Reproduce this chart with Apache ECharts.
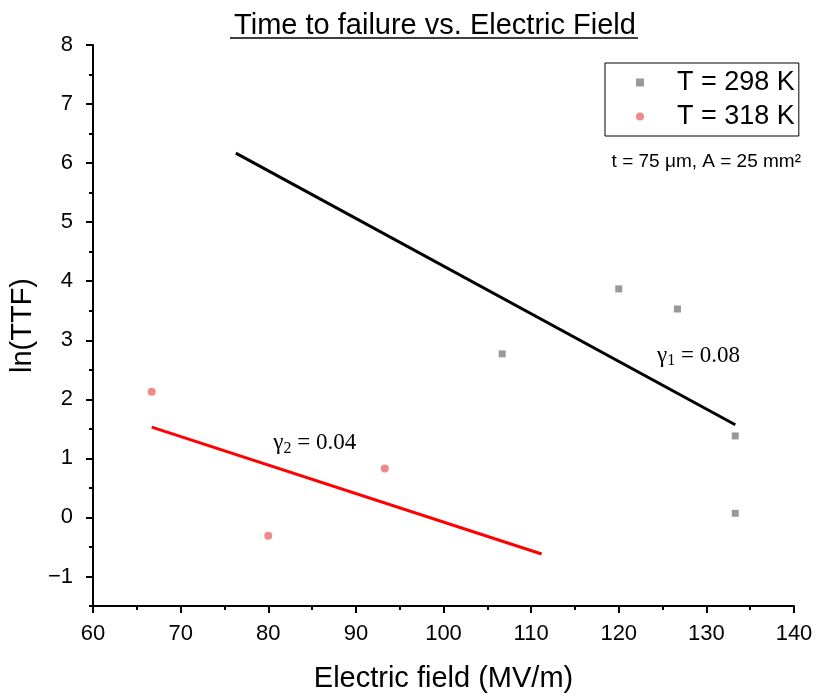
<!DOCTYPE html>
<html>
<head>
<meta charset="utf-8">
<script src="https://cdn.jsdelivr.net/npm/echarts@6/dist/echarts.min.js"></script>
<style>
  html, body { margin: 0; padding: 0; background: #fff; }
  #main { width: 817px; height: 698px; }
</style>
</head>
<body>
<div id="main"></div>
<script>
// measured points, T = 298 K
var field298 = [106.7, 120.0, 126.7, 133.3, 133.3]
var lnTTF298 = [2.77, 3.87, 3.53, 1.38, 0.07]
// measured points, T = 318 K
var field318 = [66.7, 80.0, 93.3]
var lnTTF318 = [2.13, -0.31, 0.83]
// linear fits (end points)
var fit298 = [[76.3, 6.17], [133.3, 1.57]]
var fit318 = [[66.7, 1.53], [111.2, -0.62]]
// y tick labels
var yTicks = [-1, 0, 1, 2, 3, 4, 5, 6, 7, 8]

function pairs(xs, ys) {
  var out = []
  for (let i = 0; i < xs.length; i++) {
    out.push([xs[i], ys[i]])
  }
  return out
}

var chart = echarts.init(document.getElementById('main'))
var font = 'Arial, "Liberation Sans", sans-serif'
var serif = '"Times New Roman", "Liberation Serif", serif'
var gammaRich = {
  g: { fontFamily: serif, fontSize: 23, color: '#000' },
  s: { fontFamily: serif, fontSize: 16, color: '#000', padding: [11, 0, 0, 0] }
}

var option = {
  animation: false,
  backgroundColor: '#fff',
  title: [{
    text: 'Time to failure vs. Electric Field',
    left: 430,
    top: 6,
    textAlign: 'center',
    textStyle: { fontFamily: font, fontSize: 29, fontWeight: 'normal', color: '#000' }
  }, {
    text: 't = 75 μm, A = 25 mm²',
    right: 11,
    top: 147,
    textStyle: { fontFamily: font, fontSize: 19, fontWeight: 'normal', color: '#000' }
  }],
  graphic: [{
    // title underline
    type: 'line',
    shape: { x1: 230, y1: 38, x2: 638, y2: 38 },
    style: { stroke: '#000', lineWidth: 1.5 }
  }],
  legend: {
    data: ['T = 298 K', 'T = 318 K'],
    orient: 'vertical',
    left: 605,
    top: 63,
    padding: [6, 4, 6, 31],
    itemGap: 7,
    itemWidth: 8,
    itemHeight: 8,
    borderColor: '#000',
    borderWidth: 1,
    textStyle: { fontFamily: font, fontSize: 27, color: '#000', padding: [0, 0, 0, 28] }
  },
  grid: { left: 93, right: 23, top: 45, bottom: 88 },
  xAxis: {
    type: 'value',
    min: 60,
    max: 140,
    interval: 10,
    name: 'Electric field (MV/m)',
    nameLocation: 'middle',
    nameGap: 58,
    nameTextStyle: { fontFamily: font, fontSize: 29, color: '#000' },
    axisLine: { onZero: false, lineStyle: { color: '#000', width: 2 } },
    axisTick: { length: 7, lineStyle: { color: '#000', width: 2 } },
    minorTick: { show: true, splitNumber: 2, length: 4, lineStyle: { color: '#000', width: 2 } },
    axisLabel: { fontFamily: font, fontSize: 22, color: '#000', margin: 17 },
    splitLine: { show: false }
  },
  yAxis: [{
    type: 'value',
    min: -1.5,
    max: 8,
    name: 'ln(TTF)',
    nameLocation: 'middle',
    nameGap: 54,
    nameTextStyle: { fontFamily: font, fontSize: 29, color: '#000' },
    axisLine: { show: true, onZero: false, lineStyle: { color: '#000', width: 2 } },
    axisTick: { show: true, customValues: yTicks, length: 7, lineStyle: { color: '#000', width: 2 } },
    axisLabel: {
      customValues: yTicks,
      fontFamily: font, fontSize: 22, color: '#000', margin: 20,
      formatter: function (v) {
        return v < 0 ? '\u2212' + Math.abs(v) : String(v)
      }
    },
    splitLine: { show: false }
  }, {
    // minor ticks every 0.5
    type: 'value',
    position: 'left',
    min: -1.5,
    max: 8,
    interval: 0.5,
    axisLine: { show: false, onZero: false },
    axisTick: { show: true, length: 4, lineStyle: { color: '#000', width: 2 } },
    axisLabel: { show: false },
    splitLine: { show: false }
  }],
  series: [{
    name: 'T = 298 K',
    type: 'scatter',
    symbol: 'rect',
    symbolSize: 7,
    itemStyle: { color: '#7f7f7f' },
    data: pairs(field298, lnTTF298),
    z: 3
  }, {
    name: 'T = 318 K',
    type: 'scatter',
    symbol: 'circle',
    symbolSize: 8,
    itemStyle: { color: '#f06a6a' },
    data: pairs(field318, lnTTF318),
    z: 3
  }, {
    name: 'fit298',
    type: 'line',
    showSymbol: false,
    lineStyle: { color: '#000', width: 3 },
    data: fit298,
    markPoint: {
      symbolSize: 0,
      label: { show: true, formatter: '{g|γ}{s|1}{g| = 0.08}', rich: gammaRich },
      data: [{ coord: [129.1, 2.74] }]
    }
  }, {
    name: 'fit318',
    type: 'line',
    showSymbol: false,
    lineStyle: { color: '#ff0000', width: 3 },
    data: fit318,
    markPoint: {
      symbolSize: 0,
      label: { show: true, formatter: '{g|γ}{s|2}{g| = 0.04}', rich: gammaRich },
      data: [{ coord: [85.3, 1.26] }]
    }
  }]
}
chart.setOption(option)
</script>
</body>
</html>
